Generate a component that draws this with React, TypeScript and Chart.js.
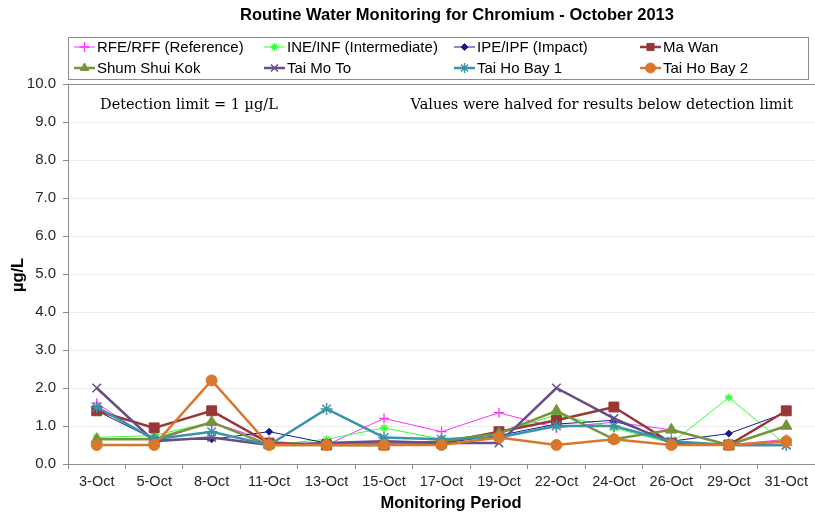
import React, { useEffect, useRef } from 'react';
import { Chart, registerables } from 'chart.js';
import { drawPoint } from 'chart.js/helpers';

Chart.register(...registerables);

const chartTitle = 'Routine Water Monitoring for Chromium - October 2013';
const xAxisTitle = 'Monitoring Period';
const yAxisTitle = 'µg/L';
const noteLeft = 'Detection limit = 1 µg/L';
const noteRight = 'Values were halved for results below detection limit';

const categories = ['3-Oct', '5-Oct', '8-Oct', '11-Oct', '13-Oct', '15-Oct', '17-Oct', '19-Oct', '22-Oct', '24-Oct', '26-Oct', '29-Oct', '31-Oct'];

const rfeValues = [1.6, 0.6, 1.1, 0.6, 0.5, 1.2, 0.85, 1.35, 0.95, 1.1, 0.9, 0.5, 0.65];
const ineValues = [0.7, 0.75, 1.1, 0.5, 0.65, 0.95, 0.65, 0.8, 1.3, 0.95, 0.55, 1.75, 0.5];
const ipeValues = [1.4, 0.65, 0.65, 0.85, 0.55, 0.55, 0.55, 0.75, 1.05, 1.15, 0.6, 0.8, 1.35];
const maWanValues = [1.4, 0.95, 1.4, 0.55, 0.5, 0.5, 0.55, 0.85, 1.15, 1.5, 0.55, 0.5, 1.4];
const shumShuiKokValues = [0.65, 0.65, 1.1, 0.5, 0.5, 0.5, 0.6, 0.8, 1.4, 0.65, 0.9, 0.5, 1.0];
const taiMoToValues = [2.0, 0.6, 0.7, 0.5, 0.55, 0.6, 0.55, 0.55, 2.0, 1.2, 0.55, 0.5, 0.5];
const taiHoBay1Values = [1.5, 0.65, 0.85, 0.5, 1.45, 0.7, 0.65, 0.7, 1.0, 1.0, 0.6, 0.5, 0.5];
const taiHoBay2Values = [0.5, 0.5, 2.2, 0.5, 0.5, 0.5, 0.5, 0.7, 0.5, 0.65, 0.5, 0.5, 0.6];

const yMin = 0;
const yMax = 10;
const yStep = 1;

const seriesNames = ['RFE/RFF (Reference)', 'INE/INF (Intermediate)', 'IPE/IPF (Impact)', 'Ma Wan', 'Shum Shui Kok', 'Tai Mo To', 'Tai Ho Bay 1', 'Tai Ho Bay 2'];
const seriesValues = [rfeValues, ineValues, ipeValues, maWanValues, shumShuiKokValues, taiMoToValues, taiHoBay1Values, taiHoBay2Values];
const seriesColors = ['#ff33ff', '#33ff33', '#1a1a8c', '#9b3636', '#77933c', '#664d85', '#3a93a8', '#d9782d'];
const seriesLineWidths = [1, 1, 1, 2.5, 2.5, 2.5, 2.5, 2.5];
const seriesPointStyles = ['cross', 'star', 'rectRot', 'rect', 'triangle', 'crossRot', 'star', 'circle'];
const seriesPointRadii = [5, 4, 3.5, 7, 6.5, 6, 6, 5.5];
const seriesPointBorder = [1.3, 1.3, 1, 1, 1, 1.5, 1.5, 1];

const legendCols = [74, 264, 454, 640];
const legendRows = [47, 68];

const overlayPlugin = {
  id: 'overlay',
  afterDraw(chart: any) {
    const ctx = chart.ctx;
    const ca = chart.chartArea;
    ctx.save();
    // frame top line
    ctx.strokeStyle = '#8c8c8c';
    ctx.lineWidth = 1;
    ctx.beginPath();
    ctx.moveTo(ca.left, Math.round(ca.top) + 0.5);
    ctx.lineTo(ca.right, Math.round(ca.top) + 0.5);
    ctx.stroke();

    // title
    ctx.fillStyle = '#000';
    ctx.textAlign = 'center';
    ctx.textBaseline = 'middle';
    ctx.font = 'bold 16.5px "Liberation Sans", Arial, sans-serif';
    ctx.fillText(chartTitle, 457, 15);

    // legend box
    ctx.strokeStyle = '#8c8c8c';
    ctx.lineWidth = 1;
    ctx.strokeRect(68.5, 37.5, 740, 42);

    ctx.font = '15px "Liberation Sans", Arial, sans-serif';
    ctx.textAlign = 'left';
    chart.data.datasets.forEach((ds: any, i: number) => {
      const col = i % 4;
      const row = Math.floor(i / 4);
      const x0 = legendCols[col];
      const y0 = legendRows[row];
      ctx.strokeStyle = ds.borderColor;
      ctx.fillStyle = ds.borderColor;
      ctx.lineWidth = ds.borderWidth;
      ctx.beginPath();
      ctx.moveTo(x0, y0);
      ctx.lineTo(x0 + 21, y0);
      ctx.stroke();
      ctx.lineWidth = ds.pointBorderWidth;
      drawPoint(ctx, { pointStyle: ds.pointStyle, radius: Math.min(ds.pointRadius, 5), rotation: 0, borderWidth: ds.pointBorderWidth }, x0 + 10.5, y0);
      ctx.fillStyle = '#000';
      ctx.fillText(ds.label, x0 + 23, y0 + 1);
    });

    // notes
    ctx.fillStyle = '#000';
    ctx.font = '14.5px "DejaVu Serif", "Liberation Serif", serif';
    ctx.textAlign = 'left';
    ctx.fillText(noteLeft, 100, 105);
    ctx.textAlign = 'right';
    ctx.fillText(noteRight, 793, 105);

    // axis titles
    ctx.font = 'bold 16.5px "Liberation Sans", Arial, sans-serif';
    ctx.textAlign = 'center';
    ctx.fillText(xAxisTitle, 451, 503);
    ctx.translate(18, 275);
    ctx.rotate(-Math.PI / 2);
    ctx.fillText(yAxisTitle, 0, 0);
    ctx.restore();
  },
};

export default function App() {
  const canvasRef = useRef<HTMLCanvasElement | null>(null);

  useEffect(() => {
    const canvas = canvasRef.current;
    if (!canvas) return;
    const n = seriesNames.length;
    const datasets = seriesNames.map((name, i) => ({
      label: name,
      data: seriesValues[i],
      borderColor: seriesColors[i],
      backgroundColor: seriesColors[i],
      borderWidth: seriesLineWidths[i],
      pointStyle: seriesPointStyles[i],
      pointRadius: seriesPointRadii[i],
      pointBorderWidth: seriesPointBorder[i],
      pointBackgroundColor: seriesColors[i],
      pointBorderColor: seriesColors[i],
      tension: 0,
      fill: false,
      clip: false,
      order: n - i,
    }));

    const chart = new Chart(canvas, {
      type: 'line',
      data: { labels: categories, datasets },
      options: {
        animation: false,
        responsive: false,
        maintainAspectRatio: false,
        layout: { autoPadding: false, padding: { top: 84, left: 0, right: -3, bottom: 0 } },
        plugins: {
          legend: { display: false },
          title: { display: false },
          tooltip: { enabled: false },
        },
        scales: {
          x: {
            type: 'category',
            offset: true,
            grid: {
              offset: true,
              drawOnChartArea: false,
              drawTicks: true,
              tickLength: 5,
              tickColor: '#8c8c8c',
            },
            border: { display: true, color: '#8c8c8c', width: 1 },
            ticks: {
              autoSkip: false,
              maxRotation: 0,
              minRotation: 0,
              padding: 4,
              color: '#262626',
              font: { family: '"Liberation Sans", Arial, sans-serif', size: 14.5 },
            },
            afterFit: (scale: any) => {
              scale.height = 53;
              scale.paddingLeft = 0;
              scale.paddingRight = -3;
            },
          },
          y: {
            min: yMin,
            max: yMax,
            ticks: {
              stepSize: yStep,
              padding: 7,
              color: '#262626',
              font: { family: '"Liberation Sans", Arial, sans-serif', size: 15 },
              callback: (v: any) => Number(v).toFixed(1),
            },
            grid: {
              color: (c: any) => (c.tick && c.tick.value === 0 ? 'rgba(0,0,0,0)' : '#ededed'),
              drawTicks: true,
              tickLength: 5,
              tickColor: '#8c8c8c',
            },
            border: { display: true, color: '#8c8c8c', width: 1 },
            afterFit: (scale: any) => {
              scale.width = 68;
              scale.paddingRight = -3;
            },
          },
        },
      },
      plugins: [overlayPlugin],
    });
    return () => chart.destroy();
  }, []);

  return (
    <div style={{ position: 'fixed', left: 0, top: 0, width: 815, height: 517, background: '#fff' }}>
      <canvas ref={canvasRef} width={815} height={517} style={{ width: 815, height: 517, display: 'block' }} />
    </div>
  );
}
